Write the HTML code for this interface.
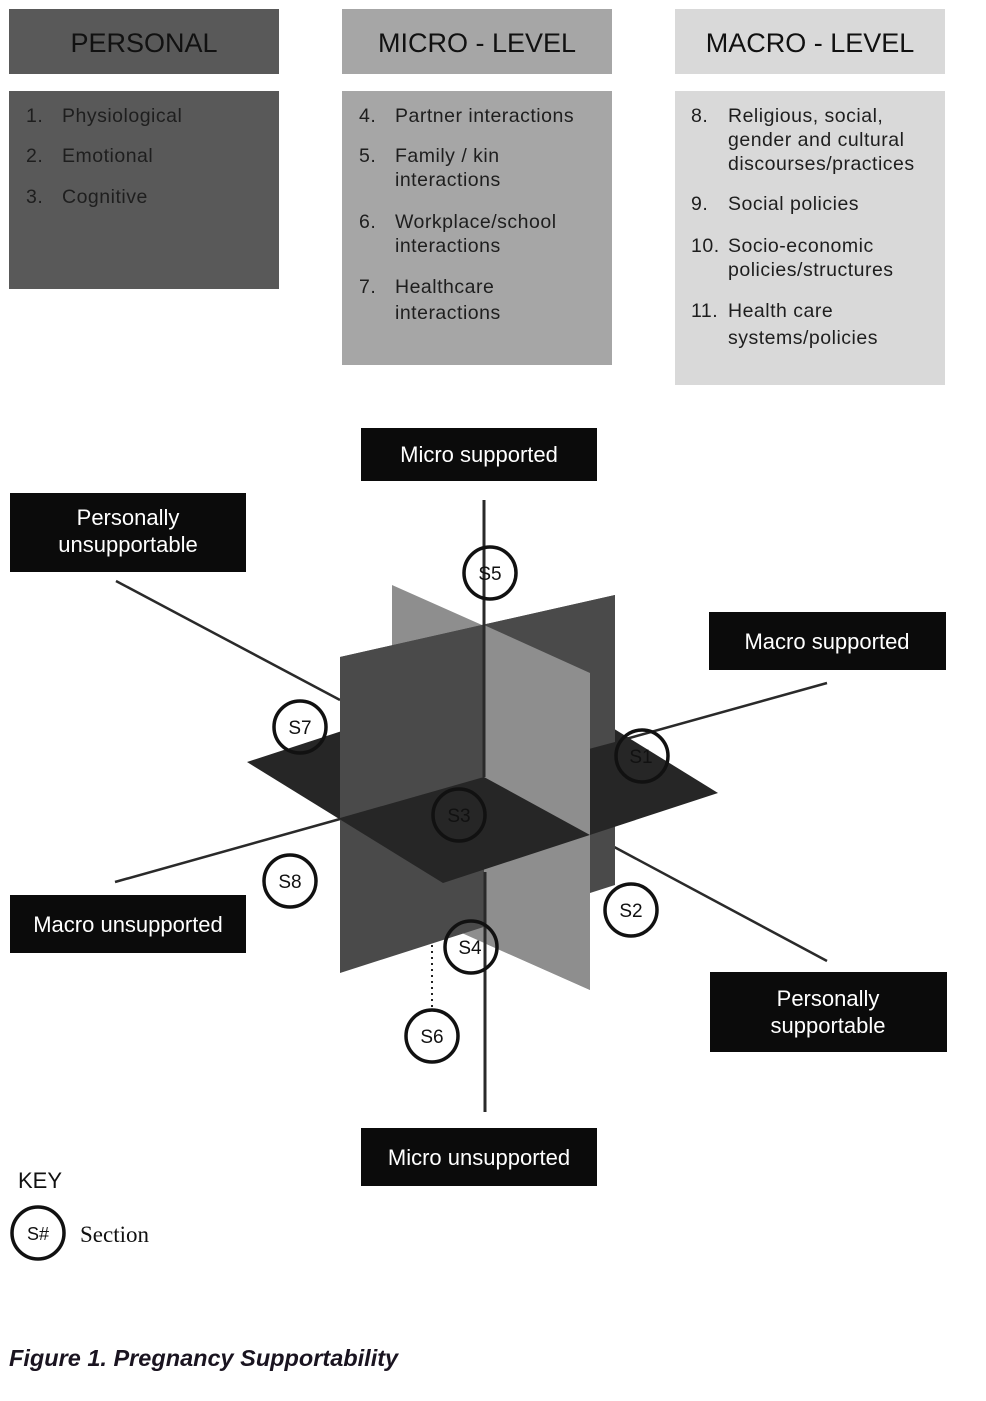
<!DOCTYPE html>
<html><head><meta charset="utf-8"><style>
html,body{margin:0;padding:0;background:#fff;}
svg{display:block;}
</style></head><body>
<svg width="986" height="1401" viewBox="0 0 986 1401" xmlns="http://www.w3.org/2000/svg">
<!-- top boxes -->
<rect x="9" y="9" width="270" height="65" fill="#595959"/>
<rect x="9" y="91" width="270" height="198" fill="#595959"/>
<rect x="342" y="9" width="270" height="65" fill="#a6a6a6"/>
<rect x="342" y="91" width="270" height="274" fill="#a6a6a6"/>
<rect x="675" y="9" width="270" height="65" fill="#d9d9d9"/>
<rect x="675" y="91" width="270" height="294" fill="#d9d9d9"/>
<g font-family="Liberation Sans, sans-serif" fill="#111" font-size="27" text-anchor="middle">
<text x="144" y="52">PERSONAL</text>
<text x="477" y="52">MICRO - LEVEL</text>
<text x="810" y="52">MACRO - LEVEL</text>
</g>
<g font-family="Liberation Sans, sans-serif" fill="#1e1e1e" font-size="19.5" letter-spacing="0.5">
<text x="26" y="122">1.</text><text x="62" y="122">Physiological</text>
<text x="26" y="162">2.</text><text x="62" y="162">Emotional</text>
<text x="26" y="203">3.</text><text x="62" y="203">Cognitive</text>

<text x="359" y="122">4.</text><text x="395" y="122">Partner interactions</text>
<text x="359" y="162">5.</text><text x="395" y="162">Family / kin</text>
<text x="395" y="186">interactions</text>
<text x="359" y="228">6.</text><text x="395" y="228">Workplace/school</text>
<text x="395" y="252">interactions</text>
<text x="359" y="293">7.</text><text x="395" y="293">Healthcare</text>
<text x="395" y="319">interactions</text>

<text x="691" y="122">8.</text><text x="728" y="122">Religious, social,</text>
<text x="728" y="146">gender and cultural</text>
<text x="728" y="170">discourses/practices</text>
<text x="691" y="210">9.</text><text x="728" y="210">Social policies</text>
<text x="691" y="252">10.</text><text x="728" y="252">Socio-economic</text>
<text x="728" y="276">policies/structures</text>
<text x="691" y="317">11.</text><text x="728" y="317">Health care</text>
<text x="728" y="344">systems/policies</text>
</g>

<!-- axes lines visible parts behind -->
<g stroke="#2a2a2a" stroke-width="2.5">
<line x1="116" y1="581" x2="340" y2="700"/>
<line x1="590" y1="834" x2="827" y2="961"/>
<line x1="115" y1="882" x2="340" y2="819"/>
<line x1="615" y1="742" x2="827" y2="683"/>
</g>

<!-- planes -->
<polygon points="392,585 590,673 590,990 392,902" fill="#8e8e8e"/>
<polygon points="340,657 615,595 615,885 340,973" fill="#4a4a4a"/>
<polygon points="484,777 590,835 590,990 484,943" fill="#8e8e8e"/>
<polygon points="247,762 522,672 718,793 443,883" fill="#262626"/>
<polygon points="340,657 615,595 615,742 484,777 340,818" fill="#4a4a4a"/>
<polygon points="484,625 590,673 590,835 484,777" fill="#8e8e8e"/>

<!-- vertical axis -->
<g stroke="#2a2a2a" stroke-width="3">
<line x1="484" y1="500" x2="484" y2="777"/>
<line x1="485" y1="872" x2="485" y2="1112"/>
</g>
<line x1="432" y1="945" x2="432" y2="1008" stroke="#222" stroke-width="2" stroke-dasharray="2,4"/>

<!-- circles -->
<g fill="none" stroke="#111" stroke-width="3.5">
<circle cx="490" cy="573" r="26"/>
<circle cx="300" cy="727" r="26"/>
<circle cx="642" cy="756" r="26"/>
<circle cx="459" cy="815" r="26"/>
<circle cx="290" cy="881" r="26"/>
<circle cx="631" cy="910" r="26"/>
<circle cx="471" cy="947" r="26"/>
<circle cx="432" cy="1036" r="26"/>
<circle cx="38" cy="1233" r="26"/>
</g>
<g font-family="Liberation Sans, sans-serif" font-size="19" fill="#111" text-anchor="middle">
<text x="490" y="580">S5</text>
<text x="300" y="734">S7</text>
<text x="641" y="763">S1</text>
<text x="459" y="822">S3</text>
<text x="290" y="888">S8</text>
<text x="631" y="917">S2</text>
<text x="470" y="954">S4</text>
<text x="432" y="1043">S6</text>
<text x="38" y="1240" font-size="18">S#</text>
</g>

<!-- black labels -->
<g fill="#0b0b0b">
<rect x="361" y="428" width="236" height="53"/>
<rect x="10" y="493" width="236" height="79"/>
<rect x="709" y="612" width="237" height="58"/>
<rect x="10" y="895" width="236" height="58"/>
<rect x="710" y="972" width="237" height="80"/>
<rect x="361" y="1128" width="236" height="58"/>
</g>
<g font-family="Liberation Sans, sans-serif" font-size="22" fill="#fff" text-anchor="middle">
<text x="479" y="462">Micro supported</text>
<text x="128" y="525">Personally</text>
<text x="128" y="552">unsupportable</text>
<text x="827" y="649">Macro supported</text>
<text x="128" y="932">Macro unsupported</text>
<text x="828" y="1006">Personally</text>
<text x="828" y="1033">supportable</text>
<text x="479" y="1165">Micro unsupported</text>
</g>

<text x="18" y="1188" font-family="Liberation Sans, sans-serif" font-size="22" fill="#111">KEY</text>
<text x="80" y="1242" font-family="Liberation Serif, serif" font-size="23" fill="#111">Section</text>
<text x="9" y="1366" font-family="Liberation Sans, sans-serif" font-size="23.5" font-weight="bold" font-style="italic" fill="#1a1420">Figure 1. Pregnancy Supportability</text>
</svg>
</body></html>
